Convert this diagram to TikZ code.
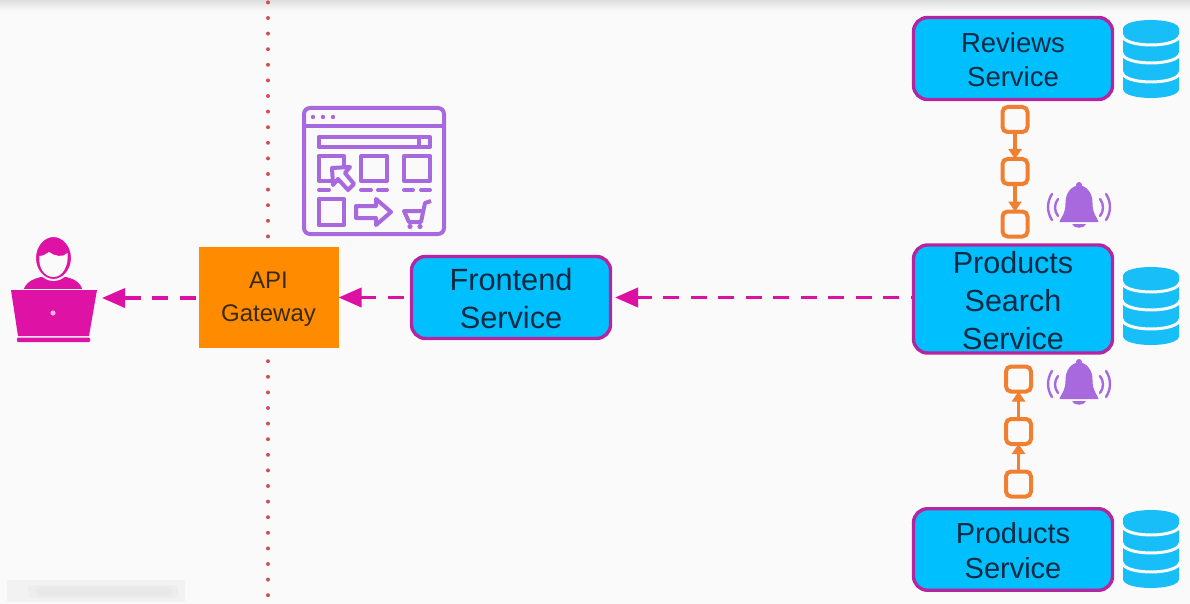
\documentclass[tikz,border=0pt]{standalone}
\usepackage{fontspec}
\setmainfont{Liberation Sans}
\usetikzlibrary{arrows.meta,positioning}
\definecolor{pagebg}{HTML}{FAFAFA}
\definecolor{svcblue}{HTML}{00BFFF}
\definecolor{svcedge}{HTML}{B5259F}
\definecolor{svctext}{HTML}{0C2A42}
\definecolor{gworange}{HTML}{FF8C00}
\definecolor{gwtext}{HTML}{3A2A14}
\definecolor{flowpink}{HTML}{DD10A4}
\definecolor{userpink}{HTML}{DF12A6}
\definecolor{qorange}{HTML}{F08030}
\definecolor{iconpurple}{HTML}{A869DE}
\definecolor{dbblue}{HTML}{17BEF7}
\definecolor{dotred}{HTML}{D0505A}
\newcommand{\lowerstrut}{\rule{0pt}{.8em}}
\tikzset{
  svc/.style={draw=svcedge,fill=svcblue,line width=3.4pt,rounded corners=14pt,outer sep=0pt,
    inner sep=0pt,text=svctext,align=center,minimum width=199pt},
  gwbox/.style={fill=gworange,outer sep=0pt,inner sep=0pt,text=gwtext,align=center,
    minimum width=140pt,minimum height=101pt,
    font=\fontsize{24}{33}\selectfont},
  qbox/.style={draw=qorange,line width=4pt,rounded corners=5pt,minimum size=25pt,
    inner sep=0pt,outer sep=0pt},
  qlink/.style={draw=qorange,line width=3.6pt,-{Triangle[length=10pt,width=13pt]}},
  flow/.style={draw=flowpink,line width=3.6pt,dash pattern=on 16pt off 11.5pt,
    -{Triangle[length=23pt,width=19pt]}},
  dotline/.style={draw=dotred,line width=4pt,line cap=round,dash pattern=on 0pt off 15.6pt},
  iconline/.style={draw=iconpurple,line width=4pt,line join=round},
  db/.pic={
    \fill[dbblue] (-28,9) .. controls (-28,-3) and (28,-3) .. (28,9) -- (28,69)
      .. controls (28,81) and (-28,81) .. (-28,69) -- cycle;
    \foreach \yy in {15,33,52}
      \draw[pagebg,line width=3pt] (-29,\yy) .. controls (-28,\yy+13.3) and (28,\yy+13.3) .. (29,\yy);
  },
  alarm/.pic={
    \fill[iconpurple] (0,2) circle[radius=3];
    \fill[iconpurple] (-19.5,39) .. controls (-19,35) and (-13.5,32) .. (-13.5,20)
      .. controls (-13.5,9) and (-7,3) .. (0,2) .. controls (7,3) and (13.5,9) .. (13.5,20)
      .. controls (13.5,32) and (19,35) .. (19.5,39) -- cycle;
    \fill[iconpurple] (-7,41) .. controls (-5,46) and (5,46) .. (7,41) -- cycle;
    \draw[iconpurple,line width=2.4pt,line cap=round]
      (-21,16) .. controls (-25,21) and (-25,28) .. (-21,33)
      (-27,11) .. controls (-32.3,19) and (-32.3,29) .. (-27,37)
      (21,16) .. controls (25,21) and (25,28) .. (21,33)
      (27,11) .. controls (32.3,19) and (32.3,29) .. (27,37);
  }
}
\begin{document}
\begin{tikzpicture}[x=1pt,y=-1pt]
\useasboundingbox (0,0) rectangle (1190,604);
\fill[pagebg] (0,0) rectangle (1190,604);
% top shadow band
\shade[top color=black!13,bottom color=pagebg] (0,0) rectangle (1190,11);
% blurred strip bottom-left
\fill[black!5] (7,580) rectangle (185,602);
\fill[black!7,rounded corners=4pt] (28,585) rectangle (178,598);
\fill[black!9,rounded corners=4pt] (36,587) rectangle (172,596);
% boundary line
\coordinate (linetop) at (268,2.4);
\coordinate (linebot) at (268,604);
\draw[dotline] (linetop) -- (linebot);
% user
\begin{scope}
  \fill[userpink] (23,292) .. controls (25,282) and (33,279) .. (41,277) -- (66,277)
     .. controls (74,279) and (81,282) .. (83,292) -- cycle;
  \fill[userpink,draw=pagebg,line width=2pt] (53.5,258) ellipse[x radius=18.5,y radius=22];
  \fill[pagebg] (39.5,256) .. controls (44,256) and (47,253) .. (49,252)
    .. controls (54,256) and (63,258) .. (67.5,253)
    .. controls (69,265) and (63,277) .. (53.5,277)
    .. controls (44,277) and (38,267) .. (39.5,256) -- cycle;
  \fill[userpink] (11,290) -- (97,290) -- (89,336) -- (18,336) -- cycle;
  \draw[pagebg,line width=1.2pt] (11,289.5) -- (97,289.5);
  \fill[userpink,rounded corners=1pt] (17,337.5) rectangle (90,342);
  \fill[pagebg!70!userpink] (53,313) circle[radius=2.6];
\end{scope}
\coordinate (userport) at (102,298);
% browser icon
\begin{scope}
  \draw[iconline,rounded corners=6pt] (304,108) rectangle (444,234);
  \draw[iconline] (304,126) -- (444,126);
  \foreach \xx in {313,323,333} \fill[iconpurple] (\xx,117) circle[radius=2.2];
  \draw[iconline] (318.5,137) rectangle (430,147);
  \draw[iconline] (419,137) -- (419,147);
  \draw[iconline] (318.5,156) rectangle (344,181);
  \draw[iconline] (361,156) rectangle (387,181);
  \draw[iconline] (404,156) rectangle (430,181);
  \draw[iconline,fill=pagebg] (332,168) -- (350,167) -- (345,173) -- (354,184) -- (348,190) -- (338,179) -- (333,185) -- cycle;
  \draw[iconline,line cap=round] (319,190) -- (329,190) (361,190) -- (371,190) (378,190) -- (387,190) (404,190) -- (413,190) (421,190) -- (430,190);
  \draw[iconline] (318.5,199) rectangle (344,225);
  \draw[iconline] (356,206) -- (376,206) -- (376,199) -- (391,212) -- (376,225) -- (376,218) -- (356,218) -- cycle;
  \draw[iconline] (431,201) -- (425,203) -- (421,222) -- (409,222) -- (404,211) -- (423,211);
  \fill[iconpurple] (410,226.5) circle[radius=2.6] (420,226.5) circle[radius=2.6];
\end{scope}
% gateway and services
\node[gwbox] (gw) at (268.5,297.5) {\lowerstrut API\\Gateway};
\node[svc,minimum height=82pt,font=\fontsize{30.7}{38}\selectfont] (fe) at (511,297.5) {\lowerstrut Frontend\\Service};
\node[svc,minimum height=82pt,font=\fontsize{27.5}{34}\selectfont] (rev) at (1013,58.5) {\lowerstrut Reviews\\Service};
\node[svc,minimum height=108pt,font=\fontsize{30.5}{38}\selectfont] (search) at (1013,299) {\lowerstrut Products\\Search\\Service};
\node[svc,minimum height=81.5pt,font=\fontsize{29}{35}\selectfont] (prod) at (1013,549.5) {\lowerstrut Products\\Service};
% databases
\pic at (1151,20) {db};
\pic at (1151,267) {db};
\pic at (1151,510) {db};
% flows
\draw[flow,shorten <=3pt] (gw.west |- 0,298) -- (userport);
\draw[flow,shorten <=8pt] (fe.west) -- (gw.east);
\draw[flow,dash phase=13pt,shorten >=4.5pt] (search.west |- fe.east) -- (fe.east);
% queues
\node[qbox] (a1) at (1015,119.5) {};
\node[qbox] (a2) at (1015,171.5) {};
\node[qbox] (a3) at (1015,224) {};
\draw[qlink] (a1) -- (a2);
\draw[qlink] (a2) -- (a3);
\node[qbox] (b1) at (1018.5,379) {};
\node[qbox] (b2) at (1018.5,431.5) {};
\node[qbox] (b3) at (1018.5,484) {};
\draw[qlink] (b3) -- (b2);
\draw[qlink] (b2) -- (b1);
% bells
\pic at (1079,183) {alarm};
\pic at (1079,360) {alarm};
\end{tikzpicture}
\end{document}
